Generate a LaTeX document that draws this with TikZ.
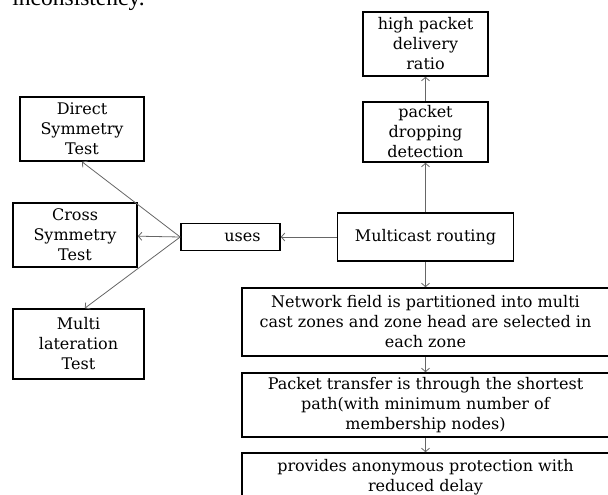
\documentclass[tikz,border=0pt]{standalone}
\usepackage{fontspec}
\setmainfont{DejaVu Serif}
\newfontfamily\pagefont{Liberation Serif}
\usetikzlibrary{arrows.meta}

\begin{document}
\begin{tikzpicture}[x=1pt,y=-1pt,->,
    >={Straight Barb[length=3.5pt,width=8pt]},
    draw=black!60,line width=0.8pt,
    box/.style={draw=black,line width=1.6pt,align=center,inner sep=0pt,
      font=\fontsize{16}{20}\selectfont}]
        \clip (0,0) rectangle (608,495);
        \node[anchor=base west,inner sep=0pt,
          font=\pagefont\fontsize{23.5}{28}\selectfont] (txt) at (12,6) {inconsistency.};
        \node[box,minimum width=125pt,minimum height=64pt] (high) at (425.5,44) {high packet\\delivery\\ratio};
        \node[box,minimum width=125pt,minimum height=60pt] (drop) at (425.5,132) {packet\\dropping\\detection};
        \node[box,minimum width=176pt,minimum height=48pt] (mcast) at (425.5,237) {Multicast routing};
        \node[box,minimum width=367pt,minimum height=68pt] (field) at (425.5,322) {Network field is partitioned into multi\\cast zones and zone head are selected in\\each zone};
        \node[box,minimum width=367pt,minimum height=64pt] (transfer) at (425.5,405) {Packet transfer is through the shortest\\path(with minimum number of\\membership nodes)};
        \node[box,minimum width=367pt,minimum height=48pt] (anon) at (425.5,477) {provides anonymous protection with\\reduced delay};
        \node[box,minimum width=99pt,minimum height=27pt] (uses) at (230.5,237) {\hspace*{24pt}uses};
        \node[box,minimum width=124pt,minimum height=64pt] (direct) at (82,129) {Direct\\Symmetry\\Test};
        \node[box,minimum width=124pt,minimum height=64pt] (cross) at (75,235) {Cross\\Symmetry\\Test};
        \node[box,minimum width=131pt,minimum height=70pt] (multi) at (78.5,344) {Multi\\lateration\\Test};
        \draw (drop) -- (high);
        \draw (mcast) -- (drop);
        \draw (mcast) -- (field);
        \draw (field) -- (transfer);
        \draw (transfer) -- (anon);
        \draw (mcast) -- (uses);
        \draw (uses.west) -- (direct.south);
        \draw (uses.west) -- (cross);
        \draw (uses.west) -- (multi.80);
      \end{tikzpicture}
\end{document}
